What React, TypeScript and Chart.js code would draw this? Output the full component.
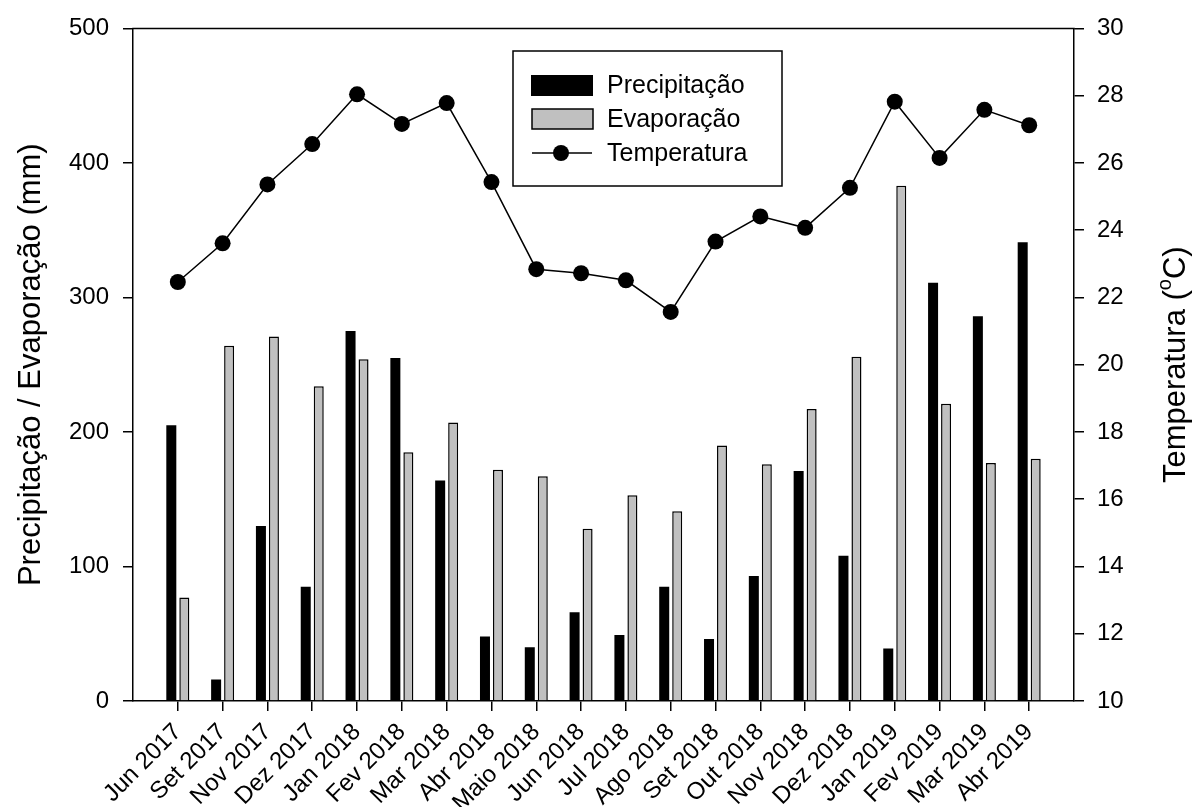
import React, { useEffect, useRef } from 'react';
import { Chart, registerables } from 'chart.js';

Chart.register(...registerables);

const months = [
  'Jun 2017', 'Set 2017', 'Nov 2017', 'Dez 2017', 'Jan 2018', 'Fev 2018', 'Mar 2018',
  'Abr 2018', 'Maio 2018', 'Jun 2018', 'Jul 2018', 'Ago 2018', 'Set 2018', 'Out 2018',
  'Nov 2018', 'Dez 2018', 'Jan 2019', 'Fev 2019', 'Mar 2019', 'Abr 2019',
];
const precipitation = [205, 16, 130, 85, 275, 255, 164, 48, 40, 66, 49, 85, 46, 93, 171, 108, 39, 311, 286, 341];
const evaporation = [77, 264, 271, 234, 254, 185, 207, 172, 167, 128, 153, 141, 190, 176, 217, 256, 383, 221, 177, 180];
const temperature = [22.46, 23.61, 25.36, 26.56, 28.04, 27.16, 27.78, 25.43, 22.84, 22.72, 22.51, 21.57, 23.66, 24.41, 24.07, 25.26, 27.82, 26.15, 27.58, 27.12];

const seriesNames = ['Precipitação', 'Evaporação', 'Temperatura'];
const leftTitle = 'Precipitação / Evaporação (mm)';
const rightTitleParts = ['Temperatura (', 'o', 'C)'];

const FONT = '"Liberation Sans", Arial, sans-serif';
const GRAY = '#c0c0c0';

const framePlugin = {
  id: 'frameAndTitles',
  afterDraw(chart: any) {
    const { ctx, chartArea } = chart;
    const { left, right, top, bottom } = chartArea;
    ctx.save();
    ctx.strokeStyle = '#000';
    ctx.lineWidth = 1.5;
    ctx.beginPath();
    ctx.moveTo(left - 0.75, top);
    ctx.lineTo(right + 0.75, top);
    ctx.stroke();

    const cy = (top + bottom) / 2;
    ctx.fillStyle = '#000';
    ctx.font = `31px ${FONT}`;
    ctx.textAlign = 'center';
    ctx.textBaseline = 'alphabetic';
    ctx.save();
    ctx.translate(40, cy);
    ctx.rotate(-Math.PI / 2);
    ctx.fillText(leftTitle, 0, 0);
    ctx.restore();

    ctx.save();
    ctx.translate(1185, cy);
    ctx.rotate(-Math.PI / 2);
    ctx.textAlign = 'left';
    ctx.font = `31px ${FONT}`;
    const w1 = ctx.measureText(rightTitleParts[0]).width;
    const w3 = ctx.measureText(rightTitleParts[2]).width;
    ctx.font = `20px ${FONT}`;
    const w2 = ctx.measureText(rightTitleParts[1]).width;
    const total = w1 + w2 + w3;
    let x = -total / 2;
    ctx.font = `31px ${FONT}`;
    ctx.fillText(rightTitleParts[0], x, 0);
    x += w1;
    ctx.font = `20px ${FONT}`;
    ctx.fillText(rightTitleParts[1], x, -14);
    x += w2;
    ctx.font = `31px ${FONT}`;
    ctx.fillText(rightTitleParts[2], x, 0);
    ctx.restore();

    const bx = 513, by = 51, bw = 269, bh = 135;
    ctx.lineWidth = 1.5;
    ctx.strokeStyle = '#000';
    ctx.strokeRect(bx, by, bw, bh);
    ctx.fillStyle = '#000';
    ctx.fillRect(531, 75, 62, 21);
    ctx.fillStyle = GRAY;
    ctx.fillRect(532, 109, 61, 20);
    ctx.strokeRect(532, 109, 61, 20);
    ctx.beginPath();
    ctx.moveTo(532, 153);
    ctx.lineTo(592, 153);
    ctx.stroke();
    ctx.fillStyle = '#000';
    ctx.beginPath();
    ctx.arc(561, 153, 8, 0, Math.PI * 2);
    ctx.fill();
    ctx.font = `25px ${FONT}`;
    ctx.textAlign = 'left';
    ctx.textBaseline = 'middle';
    ctx.fillText(seriesNames[0], 607, 86);
    ctx.fillText(seriesNames[1], 607, 120);
    ctx.fillText(seriesNames[2], 607, 154);
    ctx.restore();
  },
};

export default function App() {
  const canvasRef = useRef<HTMLCanvasElement | null>(null);

  useEffect(() => {
    document.body.style.margin = '0';
    document.body.style.overflow = 'hidden';
    const canvas = canvasRef.current;
    if (!canvas) return;
    const tickFont = { family: FONT, size: 24 };
    const chart = new Chart(canvas, {
      type: 'bar',
      data: {
        datasets: [
          {
            type: 'line',
            label: seriesNames[2],
            data: temperature.map((v, i) => ({ x: i, y: v })),
            yAxisID: 'yR',
            borderColor: '#000',
            borderWidth: 1.5,
            pointRadius: 8,
            pointBackgroundColor: '#000',
            pointBorderColor: '#000',
            pointBorderWidth: 0,
            tension: 0,
            order: 0,
          } as any,
          {
            type: 'bar',
            label: seriesNames[0],
            data: precipitation.map((v, i) => ({ x: i, y: v })),
            yAxisID: 'yL',
            backgroundColor: '#000',
            borderWidth: 0,
            categoryPercentage: 0.58,
            barPercentage: 0.77,
            order: 1,
          } as any,
          {
            type: 'bar',
            label: seriesNames[1],
            data: evaporation.map((v, i) => ({ x: i, y: v })),
            yAxisID: 'yL',
            backgroundColor: GRAY,
            borderColor: '#000',
            borderWidth: 1.5,
            categoryPercentage: 0.58,
            barPercentage: 0.77,
            order: 1,
          } as any,
        ],
      },
      options: {
        animation: false,
        responsive: true,
        maintainAspectRatio: false,
        layout: { padding: { top: 27, left: 0, right: 0, bottom: 0 } },
        plugins: {
          legend: { display: false },
          tooltip: { enabled: false },
        },
        scales: {
          x: {
            type: 'linear',
            min: -1,
            max: 20,
            offset: false,
            afterBuildTicks: (scale: any) => {
              scale.ticks = months.map((_, i) => ({ value: i }));
            },
            afterFit: (scale: any) => {
              scale.height = 106;
            },
            ticks: {
              callback: (v: any) => months[v as number] ?? '',
              font: tickFont,
              color: '#000',
              minRotation: 45,
              maxRotation: 45,
              autoSkip: false,
              padding: 7,
            },
            grid: {
              offset: false,
              drawOnChartArea: false,
              drawTicks: true,
              tickLength: 10,
              color: '#000',
              lineWidth: 1.5,
            },
            border: { display: true, color: '#000', width: 1.5 },
          },
          yL: {
            type: 'linear',
            position: 'left',
            min: 0,
            max: 500,
            afterFit: (scale: any) => {
              scale.width = 133;
            },
            ticks: { stepSize: 100, font: tickFont, color: '#000', padding: 14 },
            grid: {
              drawOnChartArea: false,
              tickLength: 10,
              color: '#000',
              lineWidth: 1.5,
            },
            border: { display: true, color: '#000', width: 1.5 },
          },
          yR: {
            type: 'linear',
            position: 'right',
            min: 10,
            max: 30,
            afterFit: (scale: any) => {
              scale.width = 119;
            },
            ticks: { stepSize: 2, font: tickFont, color: '#000', padding: 13 },
            grid: {
              drawOnChartArea: false,
              tickLength: 10,
              color: '#000',
              lineWidth: 1.5,
            },
            border: { display: true, color: '#000', width: 1.5 },
          },
        },
      },
      plugins: [framePlugin],
    } as any);
    return () => chart.destroy();
  }, []);

  return (
    <div style={{ width: 1193, height: 807, position: 'relative', background: '#fff' }}>
      <canvas ref={canvasRef} />
    </div>
  );
}
